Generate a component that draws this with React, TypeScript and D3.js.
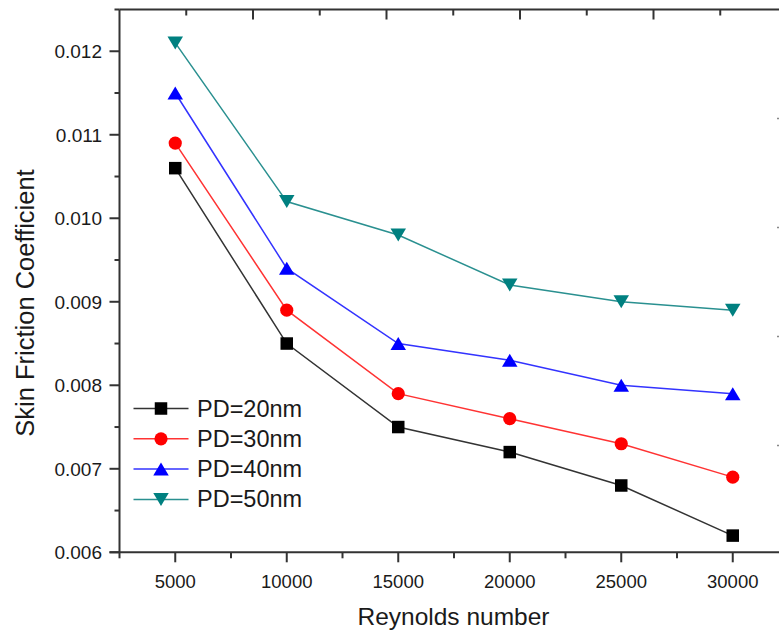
import React from "react";
import * as d3 from "d3";

const reynolds = [5000, 10000, 15000, 20000, 25000, 30000];
const pd20 = [0.0106, 0.0085, 0.0075, 0.0072, 0.0068, 0.0062];
const pd30 = [0.0109, 0.0089, 0.0079, 0.0076, 0.0073, 0.0069];
const pd40 = [0.0115, 0.0094, 0.0085, 0.0083, 0.008, 0.0079];
const pd50 = [0.0121, 0.0102, 0.0098, 0.0092, 0.009, 0.0089];
const seriesNames = ["PD=20nm", "PD=30nm", "PD=40nm", "PD=50nm"];
const xTickLabels = ["5000", "10000", "15000", "20000", "25000", "30000"];
const yTickValues = [0.006, 0.007, 0.008, 0.009, 0.01, 0.011, 0.012];
const yTickLabels = ["0.006", "0.007", "0.008", "0.009", "0.010", "0.011", "0.012"];

const W = 779;
const H = 633;
const left = 119.5;
const right = 788.5;
const top = 9.5;
const bottom = 552.3;

const colors = ["#000000", "#ff0000", "#0000ff", "#008080"];
const lineColors = ["#333333", "#ff3333", "#3333ff", "#2a9090"];
const shapes = ["square", "circle", "up", "down"];

function Marker({ shape, x, y, color }: { shape: string; x: number; y: number; color: string }) {
  if (shape === "square") {
    const s = 12.5;
    return <rect x={x - s / 2} y={y - s / 2} width={s} height={s} fill={color} />;
  }
  if (shape === "circle") {
    return <circle cx={x} cy={y} r={6.6} fill={color} />;
  }
  const w = 15.5;
  const h = 13;
  if (shape === "up") {
    return (
      <path
        d={`M${x},${y - h / 2} L${x + w / 2},${y + h / 2} L${x - w / 2},${y + h / 2} Z`}
        fill={color}
      />
    );
  }
  return (
    <path
      d={`M${x - w / 2},${y - h / 2} L${x + w / 2},${y - h / 2} L${x},${y + h / 2} Z`}
      fill={color}
    />
  );
}

export default function App() {
  const x = d3.scaleLinear().domain([2500, 32500]).range([left, right]);
  const y = d3.scaleLinear().domain([0.006, 0.0125]).range([bottom, top]);
  const topScale = d3.scaleLinear().domain([0, 5]).range([left, left + 5 * 133.5]);
  const rightScale = d3.scaleLinear().domain([0, 5]).range([top, top + 545]);

  const data = [pd20, pd30, pd40, pd50];
  const line = d3
    .line<number>()
    .x((_, i) => x(reynolds[i]))
    .y((d) => y(d));

  const xMinor = d3.range(2500, 32501, 5000);
  const yMinor = d3.range(0.0065, 0.0126, 0.001);
  const topMajor = d3.range(1, 6);
  const topMinor = d3.range(0.5, 5.5, 1);
  const rightT = d3.range(1, 5);

  const axisColor = "#333333";
  const font = "Arial, 'Liberation Sans', sans-serif";

  return (
    <svg
      width={W}
      height={H}
      style={{ position: "absolute", left: 0, top: 0, display: "block", background: "#fff" }}
    >
      <rect x={0} y={0} width={W} height={H} fill="#ffffff" />
      {/* frame lines */}
      <line x1={left} y1={top} x2={W + 5} y2={top} stroke={axisColor} strokeWidth={2} />
      <line x1={left} y1={top} x2={left} y2={bottom} stroke={axisColor} strokeWidth={2} />
      <line x1={left - 10} y1={bottom} x2={W + 5} y2={bottom} stroke={axisColor} strokeWidth={2} />

      {/* top ticks */}
      {topMajor.map((t) => (
        <line key={"tM" + t} x1={topScale(t)} x2={topScale(t)} y1={top} y2={top + 10} stroke={axisColor} strokeWidth={2} />
      ))}
      {topMinor.map((t) => (
        <line key={"tm" + t} x1={topScale(t)} x2={topScale(t)} y1={top} y2={top + 6} stroke={axisColor} strokeWidth={2} />
      ))}
      {/* right ticks peeking in */}
      {rightT.map((t) => (
        <line key={"r" + t} x1={777} x2={780} y1={rightScale(t)} y2={rightScale(t)} stroke="#888" strokeWidth={1.5} />
      ))}

      {/* x ticks */}
      {reynolds.map((v, i) => (
        <g key={"x" + v}>
          <line x1={x(v)} x2={x(v)} y1={bottom} y2={bottom + 10} stroke={axisColor} strokeWidth={2} />
          <text x={x(v)} y={587.5} textAnchor="middle" fontFamily={font} fontSize={18.5} fill="#1a1a1a">
            {xTickLabels[i]}
          </text>
        </g>
      ))}
      {xMinor.map((v) => (
        <line key={"xm" + v} x1={x(v)} x2={x(v)} y1={bottom} y2={bottom + 6} stroke={axisColor} strokeWidth={2} />
      ))}

      {/* y ticks */}
      {yTickValues.map((v, i) => (
        <g key={"y" + v}>
          <line x1={left - 10} x2={left} y1={y(v)} y2={y(v)} stroke={axisColor} strokeWidth={2} />
          <text x={102} y={y(v) + 6.8} textAnchor="end" fontFamily={font} fontSize={19} fill="#1a1a1a">
            {yTickLabels[i]}
          </text>
        </g>
      ))}
      {yMinor.map((v) => (
        <line key={"ym" + v} x1={left - 5} x2={left} y1={y(v)} y2={y(v)} stroke={axisColor} strokeWidth={2} />
      ))}

      {/* axis titles */}
      <text x={453.5} y={625} textAnchor="middle" fontFamily={font} fontSize={24.5} fill="#1a1a1a">
        Reynolds number
      </text>
      <text
        transform={`translate(33.5, 303) rotate(-90)`}
        textAnchor="middle"
        fontFamily={font}
        fontSize={25.5}
        fill="#1a1a1a"
      >
        Skin Friction Coefficient
      </text>

      {/* series */}
      {data.map((s, k) => (
        <g key={"s" + k}>
          <path d={line(s) || ""} fill="none" stroke={lineColors[k]} strokeWidth={1.5} />
          {s.map((v, i) => (
            <Marker key={i} shape={shapes[k]} x={x(reynolds[i])} y={y(v)} color={colors[k]} />
          ))}
        </g>
      ))}

      {/* legend */}
      {seriesNames.map((name, k) => {
        const ly = 408.5 + k * 30.3;
        return (
          <g key={"l" + k}>
            <line x1={133.5} x2={188.5} y1={ly} y2={ly} stroke={lineColors[k]} strokeWidth={1.5} />
            <Marker shape={shapes[k]} x={161} y={ly} color={colors[k]} />
            <text x={197} y={ly + 8} fontFamily={font} fontSize={23.5} fill="#1a1a1a">
              {name}
            </text>
          </g>
        );
      })}
    </svg>
  );
}
